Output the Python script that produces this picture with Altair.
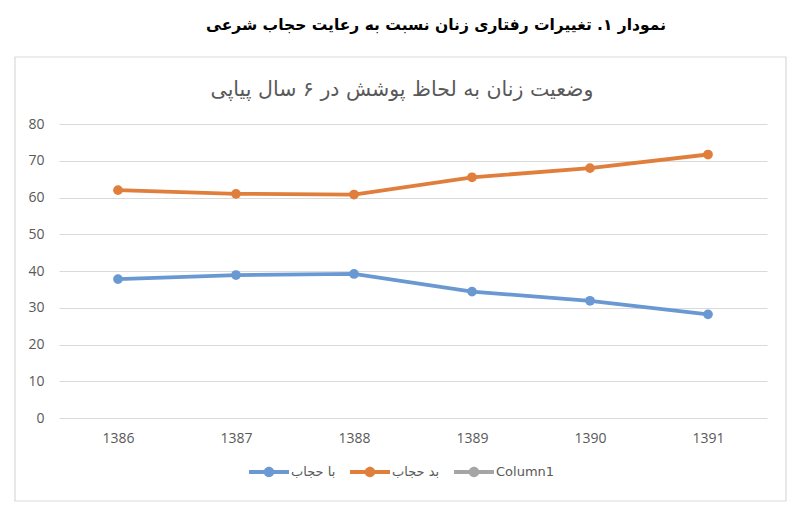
import altair as alt
import pandas as pd

years = ["1386", "1387", "1388", "1389", "1390", "1391"]
ba_hejab = [37.8, 38.9, 39.2, 34.4, 31.9, 28.2]
bad_hejab = [62.0, 61.0, 60.8, 65.5, 68.0, 71.7]

series = ["با حجاب", "بد حجاب", "Column1"]
colors = ["#6A98D2", "#E07E3C", "#A5A5A5"]

heading = "نمودار ۱. تغییرات رفتاری زنان نسبت به رعایت حجاب شرعی"
chart_title = "وضعیت زنان به لحاظ پوشش در ۶ سال پیاپی"

df = pd.DataFrame({
    "year": years * 2,
    "value": ba_hejab + bad_hejab,
    "series": [series[0]] * len(years) + [series[1]] * len(years),
})

# line + dot legend symbol, unit box -1..1
legend_path = (
    "M-1,-0.1 L-0.2,-0.1 L-0.2,0.1 L-1,0.1 Z "
    "M0.2,-0.1 L1,-0.1 L1,0.1 L0.2,0.1 Z "
    "M0.26,0 A0.26,0.26 0 1,1 -0.26,0 A0.26,0.26 0 1,1 0.26,0 Z"
)

x = alt.X("year:O", title=None, sort=years,
          scale=alt.Scale(type="point", padding=0.5),
          axis=alt.Axis(labelAngle=0, domain=False, ticks=False, grid=False,
                        labelPadding=13, labelFontSize=14, labelColor="#595959"))
y = alt.Y("value:Q", title=None,
          scale=alt.Scale(domain=[0, 80], nice=False),
          axis=alt.Axis(values=list(range(0, 81, 10)), domain=False, ticks=False,
                        labelPadding=15, labelFontSize=14, labelColor="#595959",
                        gridColor="#d9d9d9", gridWidth=1))
color_scale = alt.Scale(domain=series, range=colors)

base = alt.Chart(df)
lines = base.mark_line(strokeWidth=3.8).encode(
    x=x, y=y,
    color=alt.Color("series:N", scale=color_scale, legend=None),
)
points = base.mark_point(filled=True, size=95, opacity=1).encode(
    x=x, y=y,
    color=alt.Color("series:N", scale=color_scale,
                    legend=alt.Legend(title=None, orient="none", direction="horizontal",
                                      legendX=190, legendY=328,
                                      symbolType=legend_path, symbolSize=1600,
                                      symbolStrokeWidth=0, labelFontSize=13,
                                      labelColor="#595959", labelFont="DejaVu Sans",
                                      labelOffset=2, columnPadding=14)),
)

frame = alt.Chart(pd.DataFrame({"a": [0]})).mark_rect(
    fillOpacity=0, stroke="#d9d9d9", strokeWidth=1.2
).encode(x=alt.value(-44), x2=alt.value(727), y=alt.value(-67), y2=alt.value(377))

head = alt.Chart(pd.DataFrame({"t": [heading]})).mark_text(
    font="DejaVu Sans", fontSize=15.5, fontWeight="bold", color="#000000",
    align="center", baseline="middle"
).encode(text="t:N", x=alt.value(377), y=alt.value(-99))

title = alt.Chart(pd.DataFrame({"t": [chart_title]})).mark_text(
    font="DejaVu Sans", fontSize=20.5, color="#595959",
    align="center", baseline="middle"
).encode(text="t:N", x=alt.value(343), y=alt.value(-34))

chart = alt.layer(frame, head, title, lines, points).resolve_legend(
    color="independent"
).properties(
    width=708, height=294,
    autosize=alt.AutoSizeParams(type="none"),
    padding={"left": 51, "top": 116, "right": 25, "bottom": 85},
).configure_view(stroke=None).configure_axis(labelFont="Open Sans")

chart.save("out.html", embed_options={"renderer": "svg", "actions": False})
